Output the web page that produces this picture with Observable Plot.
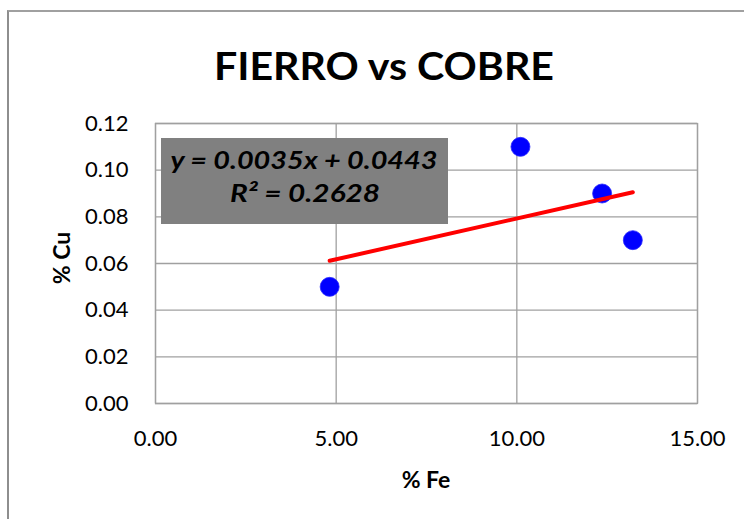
<!DOCTYPE html>
<html><head><meta charset="utf-8">
<script src="https://cdn.jsdelivr.net/npm/d3@7"></script>
<script src="https://cdn.jsdelivr.net/npm/@observablehq/plot@0.6"></script>
<style>
body{margin:0;background:#fff;}
#wrap{position:relative;width:744px;height:519px;overflow:hidden;background:#fff;}
#border{position:absolute;left:7px;top:10px;width:800px;height:600px;border-left:2px solid #8e8e8e;border-top:2px solid #a0a0a0;box-sizing:border-box;}
#chart{position:absolute;left:0;top:0;}
#overlay{position:absolute;left:0;top:0;}
#eqbox{position:absolute;left:161px;top:138px;width:287px;height:86px;background:#808080;}
</style>
</head><body>
<div id="wrap">
  <div id="border"></div>
  <div id="chart"></div>
  <div id="eqbox"></div>
  <svg id="overlay" width="744" height="519"></svg>
</div>
<script>
// ---- data ----
const titleText = "FIERRO vs COBRE";
const xLabel = "% Fe";
const yLabel = "% Cu";
const fe = [4.82, 10.10, 12.36, 13.21];     // % Fe
const cu = [0.05, 0.11, 0.09, 0.07];        // % Cu
const slope = [0.0035];
const intercept = [0.0443];
const r2 = [0.2628];
const xTicks = [0, 5, 10, 15];
const yTicks = [0, 0.02, 0.04, 0.06, 0.08, 0.10, 0.12];

const points = fe.map((x, i) => ({x, y: cu[i]}));
const trendX = [d3.min(fe), d3.max(fe)];
const trend = trendX.map(x => ({x, y: slope[0] * x + intercept[0]}));

const W = 744, H = 519;
const plot = Plot.plot({
  width: W, height: H,
  marginLeft: 155, marginRight: 47, marginTop: 123, marginBottom: 116,
  style: {fontFamily: "Lato, 'Open Sans', sans-serif", fontSize: "22px", color: "#000", background: "transparent"},
  x: {domain: [0, 15]},
  y: {domain: [0, 0.12]},
  marks: [
    Plot.gridX(xTicks, {stroke: "#a0a0a0", strokeOpacity: 1, strokeWidth: 1.3}),
    Plot.gridY(yTicks, {stroke: "#a0a0a0", strokeOpacity: 1, strokeWidth: 1.3}),
    Plot.frame({stroke: "#a0a0a0", strokeWidth: 1.3}),
    Plot.dot(points, {x: "x", y: "y", r: 9.5, fill: "#0000ff", stroke: "#2a2aff", strokeWidth: 0.8}),
    Plot.line(trend, {x: "x", y: "y", stroke: "#ff0000", strokeWidth: 4}),
    Plot.axisX(xTicks, {tickSize: 0, tickPadding: 27, tickFormat: d3.format(".2f"), label: null, fontSize: 22}),
    Plot.axisY(yTicks, {tickSize: 0, tickPadding: 27, tickFormat: d3.format(".2f"), label: null, fontSize: 22})
  ]
});
document.getElementById("chart").appendChild(plot);

const ov = d3.select("#overlay").style("font-family", "Lato, 'Open Sans', sans-serif");
ov.append("text").attr("x", 384).attr("y", 79.5).attr("text-anchor", "middle")
  .attr("font-size", 39).attr("font-weight", 700).attr("fill", "#000")
  .attr("textLength", 340).attr("lengthAdjust", "spacingAndGlyphs").text(titleText);
ov.append("text").attr("x", 426).attr("y", 488).attr("text-anchor", "middle")
  .attr("font-size", 23).attr("font-weight", 700).attr("fill", "#000").text(xLabel);
ov.append("text").attr("transform", "translate(70,258) rotate(-90)").attr("text-anchor", "middle")
  .attr("font-size", 23).attr("font-weight", 700).attr("fill", "#000").text(yLabel);
ov.append("text").attr("x", 304).attr("y", 169).attr("text-anchor", "middle")
  .attr("font-size", 25).attr("font-weight", 700).attr("font-style", "italic").attr("fill", "#000")
  .attr("textLength", 267).attr("lengthAdjust", "spacingAndGlyphs")
  .text(`y = ${slope[0].toFixed(4)}x + ${intercept[0].toFixed(4)}`);
ov.append("text").attr("x", 305).attr("y", 202).attr("text-anchor", "middle")
  .attr("font-size", 25).attr("font-weight", 700).attr("font-style", "italic").attr("fill", "#000")
  .attr("textLength", 150).attr("lengthAdjust", "spacingAndGlyphs")
  .text(`R² = ${r2[0].toFixed(4)}`);
</script>
</body></html>
